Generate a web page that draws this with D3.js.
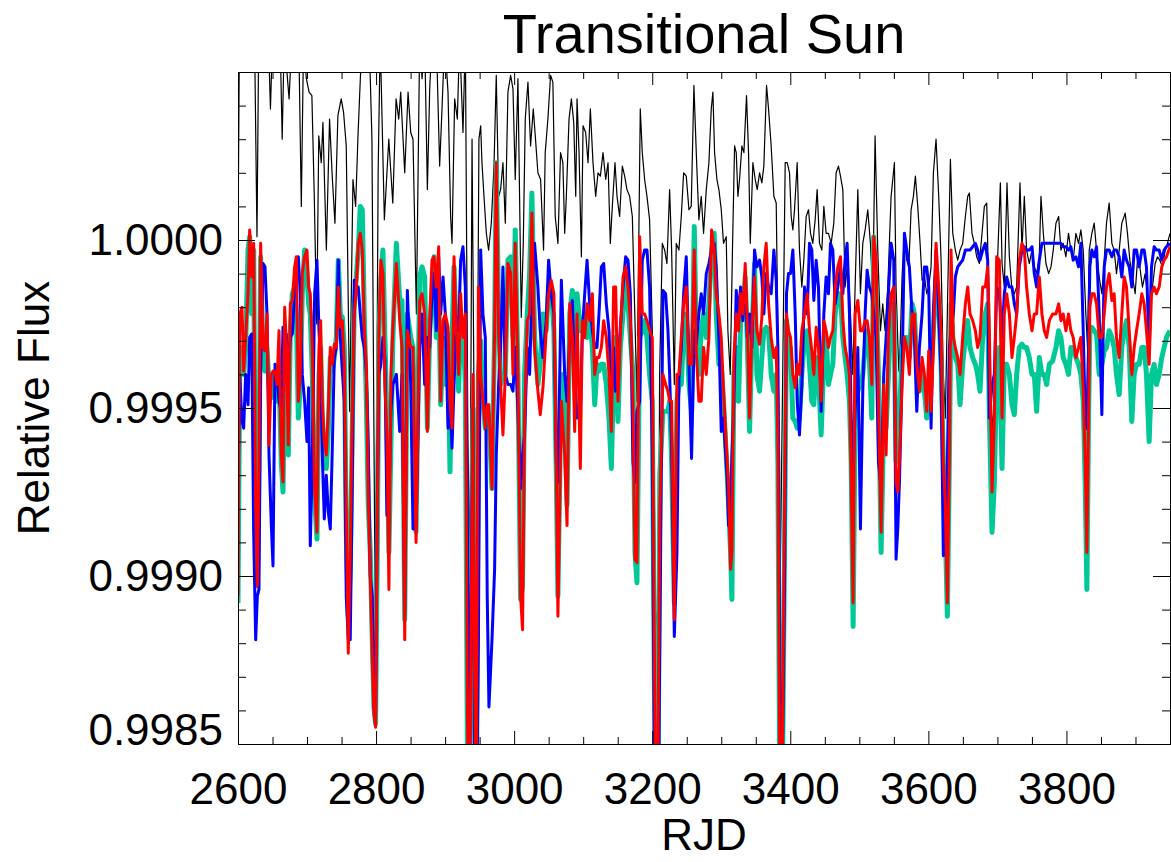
<!DOCTYPE html>
<html><head><meta charset="utf-8">
<script src="https://cdn.jsdelivr.net/npm/d3@7"></script>
<style>html,body{margin:0;padding:0;background:#fff;}svg{display:block;}</style>
</head><body>
<svg id="chart" width="1171" height="862"></svg>
<script>
const title = "Transitional Sun";
const xLabel = "RJD";
const yLabel = "Relative Flux";
const xTickValues = [2600, 2800, 3000, 3200, 3400, 3600, 3800];
const yTickValues = [0.9985, 0.9990, 0.9995, 1.0000];
const xDomain = [2600, 3950];
const yDomain = [0.9985, 1.0005];

// shared time grid of the three coloured series (RJD)
const colorDays = [
2600,2602.4,2605.8,2608.2,2611.1,2614.5,2616.9,2619.8,2622.7,2625.6,
2628,2630.4,2632.8,2636.2,2639.1,2642,2644.9,2648.3,2650.7,2653.6,
2656.5,2659.4,2662.7,2665.2,2667.6,2670,2672.9,2675.8,2678.7,2682,
2684.5,2687.4,2690.2,2693.1,2696.5,2699.9,2702.3,2704.7,2707.6,2711,
2714.4,2717.3,2719.7,2722.1,2725,2727.9,2730.8,2733.7,2736.6,2739.5,
2742.4,2745.3,2748.2,2751.1,2754,2756.8,2759.7,2762.6,2765.5,2768.4,
2771.3,2774.2,2777.1,2780,2782.9,2785.8,2788.7,2791.6,2794.5,2796.9,
2799.3,2801.7,2804.1,2807,2809.9,2812.8,2815.7,2818.6,2821.5,2824.4,
2829.4,2834.2,2837.6,2841.5,2845.3,2850.2,2853.5,2857.9,2863.2,2866.6,
2870.4,2874.3,2877.7,2881,2883.9,2887.3,2890.7,2893.6,2897,2900.3,
2904.2,2907.1,2910,2912.9,2916.2,2919.6,2922.5,2925.9,2929.3,2932.2,
2935.1,2938,2940.4,2942.6,2945.2,2948.2,2951.5,2954.8,2958.2,2961,
2963.5,2967.9,2971.7,2974.1,2977.5,2980.4,2983.8,2987.2,2991,2994.9,
2998.3,3001.6,3005.5,3009.3,3012.2,3015.1,3019,3022.4,3025.7,3029.6,
3034.4,3037.8,3041.7,3046.5,3049.9,3053.7,3057.6,3061,3063.4,3068.4,
3073.2,3076.6,3080.5,3084.3,3087.7,3091.1,3095.9,3098.8,3102.2,3105.6,
3109.4,3113.3,3116.7,3120,3122.9,3126.3,3129.7,3133.5,3137.4,3140.8,
3144.1,3147,3150.4,3153.8,3157.7,3161.5,3164.9,3168.3,3172.1,3175,
3177.9,3181.8,3185.6,3189,3192.4,3196.2,3200.1,3203,3205.5,3208.5,
3211,3215.5,3219.4,3222.8,3225.2,3228.1,3232,3235.8,3238.7,3242.1,
3245.5,3249.3,3253.2,3257,3260.9,3263.8,3267.6,3271,3274.4,3278.3,
3282.1,3286,3289.8,3292.7,3296.6,3300,3303.3,3308.7,3310.6,3313.5,
3315.4,3318.3,3321.7,3325,3328,3331.3,3334.7,3337.6,3341,3344.4,
3348.2,3351.6,3355.5,3358.8,3361.7,3365.1,3368.5,3372.3,3376.2,3379.6,
3382,3384.9,3387.8,3391.6,3394.5,3397.4,3400.3,3403.7,3407.1,3410,
3413.3,3416.7,3420.6,3424.4,3427.8,3431.2,3434.1,3437.5,3440.8,3444.7,
3448.6,3451.9,3455.3,3458.2,3461.6,3465,3468.8,3472.7,3476.1,3479.4,
3482.3,3485.7,3488.1,3491,3493.9,3497.8,3501.6,3505,3508.4,3511.3,
3514.6,3518,3520.9,3524.3,3527.7,3531.5,3535.4,3538.8,3542.1,3546,
3549.9,3553.2,3555.7,3558.1,3561.9,3565.3,3568.7,3572.5,3576.4,3579.8,
3583.2,3587,3590.9,3594.3,3597.6,3600.5,3603.9,3607.3,3611.1,3615,
3618.4,3621.7,3624.6,3627.5,3630.4,3632.8,3636.2,3639.1,3642.5,3645.9,
3649.7,3653.6,3657,3660.3,3664.2,3668.1,3671.4,3674.8,3678.7,3682.5,
3685.9,3688.3,3692.2,3695.6,3698.9,3702.8,3706.7,3710,3713.4,3717.3,
3721.1,3724.5,3727.9,3731.7,3735.6,3739,3742.3,3746.2,3750.1,3753.4,
3756.8,3760.7,3764.5,3767.9,3771.3,3775.2,3780,3784.8,3788.7,3792,
3795.3,3799.2,3803,3806.4,3809.8,3813.7,3817.5,3820.9,3824.3,3827.2,
3829.6,3832,3833.9,3836.8,3840.2,3843.6,3847.4,3851.3,3854.7,3858,
3861.9,3865.8,3869.1,3872.5,3876.4,3880.2,3883.6,3887,3890.9,3894.7,
3898.1,3901.5,3905.3,3909.2,3912.6,3915.9,3919.8,3923.2,3927,3930.4,
3934.3,3938.1,3941.5,3944.9,3950
];

const teal = [
.99892,.99960,.99968,.99960,.99968,.99997,1.00001,.99978,.99997,.99907,
.99897,.99934,.99995,.99967,.99961,.99968,.99957,.99953,.99960,.99960,
.99952,.99960,.99934,.99925,.99960,.99971,.99936,.99973,.99984,.99986,
.99978,.99947,.99957,.99984,.99997,.99990,.99981,.99978,.99960,.99923,
.99911,.99960,.99968,.99947,.99938,.99932,.99943,.99965,.99961,.99965,
.99971,.99994,.99978,.99977,.99968,.99914,.99888,.99902,.99943,.99981,
.99989,.99997,1.00010,1.00009,.99978,.99953,.99921,.99907,.99881,.99861,
.99856,.99907,.99971,.99989,.99997,.99971,.99947,.99907,.99939,.99971,
.99999,.99982,.99982,.99887,.99978,.99971,.99968,.99913,.99989,.99992,
.99989,.99944,.99973,.99984,.99995,.99971,.99986,.99951,.99971,.99957,
.99972,.99931,.99971,.99992,.99973,.99955,.99978,.99973,.99957,.99850,
.99820,.99900,.99950,.99880,.99820,.99960,.99970,.99952,.99944,.99950,
.99947,.99926,.99973,1.00023,.99978,.99957,.99960,.99960,.99994,.99995,
.99971,1.00003,.99960,.99893,.99897,.99960,.99978,.99990,1.00014,.99971,
.99957,.99963,.99978,.99973,.99986,.99986,.99973,.99931,.99894,.99960,
.99952,.99921,.99978,.99985,.99957,.99984,.99973,.99973,.99978,.99971,
.99978,.99968,.99951,.99963,.99961,.99963,.99963,.99957,.99947,.99932,
.99960,.99971,.99946,.99968,.99978,.99989,.99981,.99971,.99960,.99907,
.99898,.99971,.99973,.99976,.99971,.99960,.99952,.99870,.99820,.99840,
.99930,.99949,.99949,.99949,.99952,.99934,.99892,.99952,.99957,.99957,
.99973,.99978,.99957,.99949,1.00004,.99971,.99960,.99973,.99978,.99971,
.99981,.99997,1.00002,.99978,.99963,.99963,.99952,.99930,.99921,.99907,
.99893,.99960,.99968,.99952,.99976,.99978,.99989,.99971,.99943,.99971,
.99993,.99960,.99955,.99965,.99973,.99974,.99973,.99960,.99955,.99960,
.99934,.99830,.99820,.99907,.99976,.99968,.99968,.99947,.99946,.99944,
.99947,.99960,.99971,.99973,.99963,.99952,.99951,.99965,.99960,.99942,
.99965,.99971,.99957,.99960,.99963,.99978,.99984,.99984,.99971,.99965,
.99960,.99952,.99934,.99885,.99947,.99955,.99957,.99960,.99968,.99973,
.99965,.99947,1.00001,.99984,.99960,.99907,.99947,.99944,.99960,.99978,
.99981,.99934,.99936,.99947,.99967,.99971,.99971,.99965,.99981,.99978,
.99963,.99955,.99960,.99955,.99947,.99952,.99960,.99973,.99989,.99981,
.99963,.99934,.99914,.99888,.99934,.99981,.99968,.99965,.99963,.99951,
.99963,.99971,.99976,.99968,.99965,.99963,.99960,.99955,.99971,.99978,
.99981,.99949,.99913,.99928,.99960,.99968,.99932,.99963,.99963,.99960,
.99951,.99948,.99960,.99968,.99969,.99968,.99968,.99965,.99960,.99960,
.99949,.99965,.99960,.99960,.99957,.99963,.99964,.99968,.99973,.99971,
.99965,.99963,.99960,.99968,.99968,.99965,.99963,.99960,.99952,.99927,
.99896,.99947,.99973,.99974,.99973,.99972,.99960,.99963,.99967,.99968,
.99973,.99971,.99968,.99960,.99954,.99968,.99973,.99976,.99968,.99946,
.99960,.99963,.99963,.99968,.99968,.99960,.99940,.99960,.99963,.99957,
.99960,.99965,.99968,.99971,.99973
];

const blue = [
.99925,.99960,.99946,.99944,.99960,.99951,.99971,.99972,.99913,.99881,
.99894,.99896,.99960,.99993,.99992,.99978,.99936,.99915,.99903,.99963,
.99960,.99952,.99949,.99974,.99971,.99972,.99960,.99971,.99972,.99984,
.99989,.99995,.99984,.99960,.99952,.99940,.99956,.99909,.99934,.99984,
.99994,.99973,.99963,.99936,.99917,.99930,.99919,.99914,.99938,.99965,
.99968,.99994,.99971,.99961,.99952,.99894,.99881,.99881,.99927,.99988,
.99986,.99986,.99978,.99971,.99968,.99961,.99939,.99900,.99894,.99861,
.99859,.99921,.99960,.99963,.99971,.99965,.99918,.99921,.99949,.99957,
.99960,.99943,.99960,.99889,.99985,.99957,.99914,.99914,.99968,.99978,
.99957,.99971,.99968,.99984,.99990,.99973,.99995,.99978,.99989,.99978,
.99944,.99952,.99938,.99957,.99977,.99973,.99994,.99998,.99986,.99920,
.99830,.99900,.99950,.99840,.99820,.99880,.99997,.99978,.99971,.99894,
.99861,.99881,.99902,.99936,.99957,.99968,.99992,.99960,.99957,.99957,
.99955,.99968,.99949,.99926,.99936,.99942,.99968,.99960,.99984,.99999,
.99986,.99973,.99965,.99976,.99994,.99984,.99978,.99934,.99928,.99988,
.99960,.99952,.99971,.99982,.99960,.99947,.99949,.99973,.99984,.99994,
.99981,.99973,.99968,.99968,.99978,.99992,.99993,.99981,.99973,.99952,
.99968,.99955,.99961,.99974,.99986,.99995,.99994,.99984,.99934,.99928,
.99949,.99952,.99994,.99997,.99997,.99986,.99938,.99850,.99820,.99820,
.99880,.99985,.99984,.99973,.99960,.99939,.99882,.99907,.99959,.99968,
.99984,.99995,.99963,.99935,.99973,.99969,.99978,.99984,.99978,.99990,
.99993,.99997,.99999,.99992,.99971,.99943,.99947,.99928,.99915,.99921,
.99936,.99952,.99985,.99978,.99986,.99976,.99990,.99971,.99978,.99968,
.99997,.99992,.99994,.99989,.99978,.99990,.99986,.99984,.99997,.99988,
.99968,.99870,.99830,.99897,.99984,.99990,.99990,.99997,.99978,.99952,
.99942,.99957,.99986,.99978,.99999,.99997,.99982,.99994,.99986,.99949,
.99978,.99989,.99984,.99999,.99997,.99981,.99986,.99992,.99984,.99994,
.99999,.99978,.99947,.99931,.99949,.99968,.99914,.99955,.99978,.99991,
.99986,.99984,.99978,.99971,.99934,.99926,.99960,.99971,.99984,.99999,
.99994,.99905,.99914,.99928,.99960,1.00002,.99997,.99992,.99978,.99971,
.99949,.99968,.99978,.99992,.99992,.99986,.99944,.99978,.99997,.99978,
.99960,.99906,.99907,.99934,.99968,.99973,.99978,.99989,.99992,.99993,
.99994,.99997,.99997,.99997,.99998,.99999,.99997,.99994,.99997,.99999,
.99994,.99947,.99957,.99960,.99986,.99984,.99971,.99984,.99989,.99986,
.99986,.99981,.99978,.99992,.99997,.99998,.99997,.99997,.99998,.99990,
.99986,.99994,.99999,.99999,.99999,.99999,.99999,.99999,.99999,.99999,
.99998,.99998,.99997,.99998,.99994,.99995,.99992,.99999,.99973,.99947,
.99944,.99968,.99992,.99997,.99995,.99998,.99978,.99948,.99992,.99997,
.99997,.99995,.99997,.99997,.99995,.99989,.99997,.99994,.99992,.99986,
.99997,.99997,.99992,.99997,.99997,.99992,.99968,.99992,.99998,.99997,
.99997,.99994,.99997,.99998,.99999
];

const red = [
.99894,.99978,.99980,.99961,.99971,.99984,1.00003,.99989,.99999,.99921,
.99897,.99934,.99999,.99968,.99967,.99978,.99939,.99960,.99961,.99961,
.99957,.99973,.99936,.99928,.99980,.99969,.99939,.99981,.99982,.99992,
.99995,.99952,.99960,.99990,.99995,.99997,.99986,.99984,.99968,.99926,
.99913,.99968,.99976,.99952,.99940,.99936,.99949,.99968,.99963,.99969,
.99968,.99986,.99974,.99976,.99963,.99921,.99877,.99907,.99949,.99978,
.99985,.99999,1.00002,.99997,.99974,.99963,.99923,.99900,.99875,.99859,
.99855,.99914,.99973,.99994,.99990,.99957,.99942,.99896,.99960,.99974,
.99993,.99976,.99968,.99881,.99973,.99968,.99968,.99910,.99982,.99984,
.99978,.99943,.99976,.99994,.99995,.99986,.99998,.99952,.99976,.99978,
.99974,.99952,.99944,.99995,.99973,.99960,.99984,.99971,.99978,.99860,
.99820,.99890,.99960,.99870,.99830,.99986,.99960,.99952,.99944,.99951,
.99951,.99926,.99973,1.00023,.99972,.99957,.99942,.99960,.99993,.99990,
.99960,.99999,.99960,.99894,.99884,.99947,.99976,.99978,1.00008,.99968,
.99955,.99948,.99956,.99973,.99984,.99988,.99984,.99934,.99888,.99952,
.99936,.99915,.99981,.99971,.99943,.99978,.99932,.99976,.99971,.99981,
.99976,.99984,.99960,.99965,.99965,.99968,.99976,.99971,.99960,.99943,
.99986,.99986,.99952,.99972,.99989,.99992,.99986,.99976,.99952,.99905,
.99904,1.00001,.99978,.99978,.99976,.99973,.99971,.99880,.99820,.99850,
.99920,.99960,.99957,.99955,.99952,.99952,.99887,.99960,.99960,.99971,
.99981,.99986,.99963,.99963,.99997,.99967,.99952,.99952,.99968,.99960,
.99971,1.00003,.99997,.99984,.99978,.99971,.99955,.99934,.99926,.99902,
.99907,.99965,.99978,.99973,.99984,.99978,.99993,.99976,.99947,.99973,
.99989,.99973,.99969,.99977,.99992,.99999,.99981,.99971,.99965,.99968,
.99940,.99830,.99830,.99921,.99978,.99973,.99971,.99960,.99956,.99963,
.99960,.99973,.99978,.99984,.99973,.99967,.99960,.99974,.99968,.99952,
.99976,.99973,.99968,.99971,.99973,.99986,.99992,.99995,.99976,.99968,
.99965,.99960,.99930,.99892,.99978,.99982,.99973,.99973,.99976,.99976,
.99971,.99957,1.00001,.99994,.99952,.99913,.99957,.99936,.99971,.99984,
.99986,.99928,.99925,.99934,.99957,.99971,.99968,.99960,.99978,.99978,
.99963,.99955,.99965,.99960,.99949,.99967,.99949,.99968,.99999,.99986,
.99973,.99934,.99921,.99892,.99934,.99997,.99971,.99968,.99965,.99960,
.99971,.99981,.99986,.99978,.99976,.99973,.99968,.99971,.99986,.99986,
.99992,.99973,.99925,.99947,.99995,.99994,.99947,.99978,.99984,.99978,
.99965,.99971,.99978,.99994,.99999,.99997,.99986,.99978,.99973,.99978,
.99978,.99989,.99978,.99973,.99971,.99976,.99978,.99978,.99981,.99976,
.99978,.99973,.99978,.99973,.99971,.99965,.99968,.99971,.99955,.99934,
.99907,.99947,.99980,.99984,.99984,.99981,.99971,.99971,.99978,.99986,
.99990,.99982,.99984,.99971,.99965,.99978,.99989,.99986,.99973,.99960,
.99968,.99973,.99978,.99984,.99981,.99973,.99963,.99984,.99986,.99984,
.99986,.99992,.99994,.99995,.99998
];

// black series has its own time grid
const blackDays = [
2600,2602,2624,2627.5,2630,2644,2647,2650,2661,2664,
2667,2674,2678,2688,2691.7,2695,2699,2703,2707,2710.5,
2714,2717,2720.6,2723,2728,2732.6,2736.5,2740.4,2744.7,2749.5,
2752.9,2756.8,2761.7,2766.5,2770.4,2773.8,2777.6,2781,2790,2794,
2799,2803,2806,2812,2818.4,2824.2,2829,2832.8,2835.7,2841.5,
2846.3,2850.2,2853.5,2858.4,2863.2,2866.6,2870.4,2874.3,2877.7,2881,
2887.3,2892.1,2895.5,2899.4,2904.2,2908,2910,2913.8,2917.7,2921,
2925.9,2929.3,2933,2936,2939,2942,2945.5,2949,2951.5,2953.4,
2956.3,2959.7,2963,2966.9,2970.8,2974.1,2977.5,2980.4,2983.8,2987.2,
2991,2994.9,2998.3,3001.6,3005.5,3010.3,3013.2,3016.1,3020,3023.8,
3027.7,3030.6,3034.4,3038.3,3042.6,3045,3048.9,3052.8,3056.1,3059.5,
3063.4,3067.2,3070.6,3073.2,3075.6,3079.5,3082.9,3086.3,3089.2,3091.1,
3094,3097.4,3099.8,3103.6,3107,3110.4,3114.2,3118.1,3121.5,3124.9,
3128.7,3132.6,3136,3139.3,3142.2,3146.1,3149,3152.8,3156.7,3160.1,
3163.4,3167.3,3171.2,3175,3177.9,3182.7,3185.6,3189,3192.4,3196.2,
3200.1,3205,3209,3210.7,3214.6,3218,3221.3,3225.2,3228.1,3232,
3234.8,3238.7,3242.1,3245.5,3249.3,3253.2,3256.5,3260.4,3263.8,3267.6,
3271,3274.4,3278.3,3282.1,3285.5,3287.9,3290.3,3293.7,3296.6,3300,
3303.3,3307.2,3309.6,3313,3316.4,3319.3,3321.7,3324.1,3326.5,3329.9,
3332.8,3336.6,3339.5,3342,3345.8,3349.2,3352.1,3355.5,3358.8,3361.7,
3365.6,3368.5,3372.3,3376.2,3379.6,3382,3385.5,3389,3392.6,3395.5,
3398.9,3401.3,3403.7,3406.1,3410,3413.3,3416.7,3419.6,3423,3426.4,
3429.3,3432.6,3436,3438.9,3442.3,3445.7,3448.6,3451.9,3455.3,3459.2,
3463,3466.4,3469.8,3472.7,3476.1,3479.4,3483.3,3487.2,3490.5,3493.9,
3497.8,3501.6,3505,3508.4,3512.2,3516.1,3519.5,3522.8,3526.7,3530.6,
3533.9,3537.3,3541.2,3546,3550.8,3553.2,3557.1,3559,3561.9,3565.3,
3568.7,3571.6,3575,3578.3,3581.2,3584.6,3588,3590.9,3594.3,3597.6,
3600.5,3603.9,3607.3,3611.1,3615,3618.4,3621.7,3624.6,3628,3631.9,
3635.3,3639.1,3642.5,3645.9,3649.7,3653.6,3657,3659.4,3663.2,3666.6,
3670,3673.9,3677.7,3681.1,3684.5,3687.4,3690.7,3693.2,3697,3700.4,
3704.3,3706.7,3710,3713.9,3717.3,3721.1,3724.5,3727.9,3732.7,3735.6,
3739,3742.3,3746.2,3750.1,3753.4,3756.8,3760.7,3763.1,3766.5,3770.3,
3774.2,3777.6,3780.9,3784.8,3788.7,3792,3795.3,3799.2,3803,3806.4,
3809.8,3813.7,3817.5,3820.9,3824.3,3828.1,3830.5,3833,3836.8,3840.2,
3843.6,3847.4,3851.3,3854.7,3858,3861.9,3865.8,3869.1,3872.5,3876.4,
3880.2,3885.1,3888.4,3891.8,3895.7,3899.5,3902.9,3906.3,3910.1,3914,
3917.4,3920.8,3924.6,3928.5,3931.9,3935.2,3939.1,3943,3946.3,3950
];

const black = [
.99998,1.0006,1.0006,1.00001,1.0006,1.0006,1.00039,1.0006,1.0006,1.00030,
1.0006,1.00042,1.0006,1.0006,1.00010,1.0006,1.00048,1.00044,1.00043,1.00013,
.99975,1.00031,1.00023,1.00035,.99997,1.00036,1.00019,1.00005,1.00037,1.00042,
1.00038,1.00028,.99949,1.00018,1.00010,1.00031,1.00050,1.0006,1.0006,1.00030,
.99880,1.00020,1.0006,1.00006,1.00030,1.00011,1.00042,1.00036,1.00044,1.00020,
1.00044,1.00032,1.00030,.99978,1.0006,1.00048,1.0006,1.00015,1.00045,1.0006,
1.0006,1.00022,1.00039,1.0006,1.00044,1.00007,.99999,1.00042,1.00036,1.0006,
1.00032,1.0006,.99940,.99900,1.00030,.99950,.99910,1.00030,1.00034,1.00023,
1.00013,1.00002,.99997,1.00005,1.00022,1.00049,1.00013,1.00015,1.00023,1.00005,
1.00044,1.00049,1.00045,1.00018,1.00048,.99977,.99999,1.00036,1.00047,1.00028,
1.00039,1.00031,1.00020,1.00018,.99997,1.00026,1.00036,1.00049,1.00047,1.00007,
.99999,1.00026,1.00023,1.00002,1.00013,1.00036,1.00042,1.00035,1.00013,1.00042,
1.00026,.99995,1.00034,1.00032,1.00023,1.00039,1.00023,1.00013,1.00020,1.00019,
1.00026,1.00018,1.00023,.99999,1.00010,1.00023,1.00013,1.00007,1.00022,1.00019,
1.00015,1.00013,1.00007,.99976,.99952,1.00039,1.00026,1.00018,1.00013,1.00006,
.99973,.99890,.99880,.99960,.99999,.99997,.99993,1.00015,.99997,.99957,
.99999,.99997,1.00007,1.00020,1.00019,1.00009,1.00010,1.00046,1.00026,1.00006,
1.00013,1.00002,1.00015,1.00023,1.00039,1.00044,1.00026,1.00018,1.00015,1.00009,
.99999,1.00001,.99973,.99960,.99999,1.00028,1.00026,1.00013,1.00018,1.00028,
1.00026,1.00043,1.00026,.99999,1.00023,1.00018,1.00015,1.00020,1.00017,1.00022,
1.00046,1.00039,1.00028,1.00013,1.00011,.99973,.99900,.99960,1.00023,1.00023,
1.00020,1.00007,1.00003,1.00009,1.00023,.99997,.99986,.99994,1.00007,1.00009,
1.00002,.99999,1.00006,1.00015,.99999,.99997,1.00010,1.00002,1.00002,.99999,
1.00005,1.00020,1.00022,1.00019,1.00015,.99986,.99994,.99978,.99960,.99986,
1.00015,.99984,.99999,1.00003,1.00009,.99999,.99984,1.00031,.99997,.99973,
.99981,.99973,.99986,1.00013,1.00023,.99986,.99961,.99968,.99989,1.00002,
.99994,.99992,1.00009,1.00013,1.00019,1.00010,.99999,.99988,.99989,.99984,
.99986,.99992,1.00020,1.00030,1.00013,.99994,.99960,.99947,.99984,1.00024,
1.00002,.99997,.99994,.99997,.99999,1.00007,1.00013,1.00014,1.00002,.99999,
.99995,.99993,1.00002,1.00010,1.00011,.99986,.99950,.99943,.99968,.99995,
1.00017,.99993,.99986,1.00017,.99995,.99985,.99984,.99986,1.00017,.99997,
1.00013,.99997,.99993,.99997,.99992,.99990,.99995,1.00013,1.00002,.99993,
.99990,.99992,.99997,1.00005,1.00007,.99997,.99999,.99995,1.00002,.99997,
.99994,1.00002,.99999,1.00003,.99997,.99978,.99968,.99997,1.00002,1.00005,
.99997,.99989,.99984,.99994,1.00005,1.00011,.99999,.99997,.99990,.99997,
1.00005,1.00008,1.00002,.99994,.99989,.99984,.99994,.99992,.99986,.99990,
.99984,.99978,.99986,.99993,.99995,.99994,.99992,.99997,.99999,1.00002
];

const FONT = "'Liberation Sans', Arial, Helvetica, sans-serif";
const L = 238, R = 1170, T = 72, B = 744;

const svg = d3.select("#chart");
svg.append("rect").attr("width", 1171).attr("height", 862).attr("fill", "#fff");

const x = d3.scaleLinear().domain(xDomain).range([L, R]);
const y = d3.scaleLinear().domain(yDomain).range([B, T]);

svg.append("defs").append("clipPath").attr("id", "clip")
  .append("rect").attr("x", L).attr("y", T).attr("width", R - L).attr("height", B - T);

const plot = svg.append("g").attr("clip-path", "url(#clip)");
const mkLine = xs => d3.line().x((d, i) => x(xs[i])).y(d => y(d));

plot.append("path").datum(black).attr("d", mkLine(blackDays))
  .attr("fill", "none").attr("stroke", "#000").attr("stroke-width", 1.2).attr("stroke-linejoin", "round");

[[teal, "#00c896", 5], [blue, "#0000ff", 3], [red, "#ff0000", 3]].forEach(([s, c, w]) => {
  plot.append("path").datum(s).attr("d", mkLine(colorDays))
    .attr("fill", "none").attr("stroke", c).attr("stroke-width", w).attr("stroke-linejoin", "round");
});

// axes
const xMinor = d3.range(xDomain[0], xDomain[1] + 1, 50).filter(v => !xTickValues.includes(v));
const yMinor = d3.range(0, 21).map(i => +(yDomain[0] + i * 0.0001).toFixed(4)).filter(v => !yTickValues.some(t => Math.abs(t - v) < 1e-9));

function styleAxis(g) {
  g.attr("font-family", FONT).attr("font-size", 44);
  g.selectAll("path").attr("stroke", "#000").attr("stroke-width", 1);
  g.selectAll("line").attr("stroke", "#000").attr("stroke-width", 1);
  g.selectAll("text").attr("fill", "#000");
}

svg.append("g").attr("transform", `translate(0,${B})`)
  .call(d3.axisBottom(x).tickValues(xTickValues).tickSize(-13).tickSizeOuter(0).tickPadding(29).tickFormat(d3.format("d")))
  .call(styleAxis);
svg.append("g").attr("transform", `translate(0,${B})`)
  .call(d3.axisBottom(x).tickValues(xMinor).tickSize(-7).tickSizeOuter(0).tickFormat(""))
  .call(styleAxis);
svg.append("g").attr("transform", `translate(0,${T})`)
  .call(d3.axisTop(x).tickValues(xTickValues).tickSize(-13).tickSizeOuter(0).tickFormat(""))
  .call(styleAxis);
svg.append("g").attr("transform", `translate(0,${T})`)
  .call(d3.axisTop(x).tickValues(xMinor).tickSize(-7).tickSizeOuter(0).tickFormat(""))
  .call(styleAxis);

const gy = svg.append("g").attr("transform", `translate(${L},0)`)
  .call(d3.axisLeft(y).tickValues(yTickValues).tickSize(-17).tickSizeOuter(0).tickPadding(15).tickFormat(d3.format(".4f")))
  .call(styleAxis);
gy.selectAll(".tick text").attr("dy", d => (Math.abs(d - yDomain[0]) < 1e-9 ? "0em" : "0.33em"));
svg.append("g").attr("transform", `translate(${L},0)`)
  .call(d3.axisLeft(y).tickValues(yMinor).tickSize(-8).tickSizeOuter(0).tickFormat(""))
  .call(styleAxis);
svg.append("g").attr("transform", `translate(${R},0)`)
  .call(d3.axisRight(y).tickValues(yTickValues).tickSize(-17).tickSizeOuter(0).tickFormat(""))
  .call(styleAxis);
svg.append("g").attr("transform", `translate(${R},0)`)
  .call(d3.axisRight(y).tickValues(yMinor).tickSize(-8).tickSizeOuter(0).tickFormat(""))
  .call(styleAxis);

// titles
svg.append("text").attr("x", (L + R) / 2).attr("y", 53).attr("text-anchor", "middle")
  .attr("font-family", FONT).attr("font-size", 56).attr("fill", "#000").text(title);
svg.append("text").attr("x", (L + R) / 2).attr("y", 850).attr("text-anchor", "middle")
  .attr("font-family", FONT).attr("font-size", 44).attr("fill", "#000").text(xLabel);
svg.append("text").attr("transform", `translate(49,${(T + B) / 2}) rotate(-90)`).attr("text-anchor", "middle")
  .attr("font-family", FONT).attr("font-size", 44).attr("fill", "#000").text(yLabel);
</script>
</body></html>
